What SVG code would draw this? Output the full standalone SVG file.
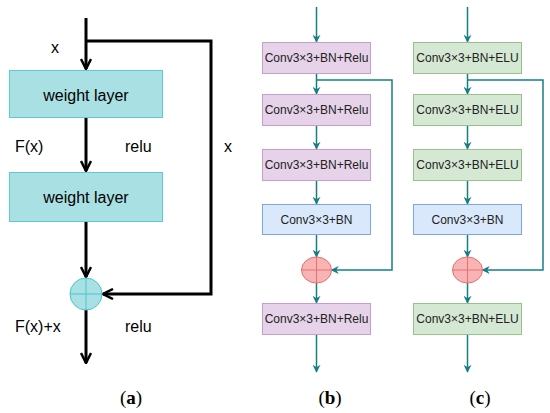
<svg xmlns="http://www.w3.org/2000/svg" width="550" height="413" viewBox="0 0 550 413">
<defs>
<marker id="ab" viewBox="0 0 12 12" refX="11" refY="6" markerWidth="12" markerHeight="12" markerUnits="userSpaceOnUse" orient="auto">
<path d="M1,1 L11,6 L1,11" fill="none" stroke="#000" stroke-width="2.5"/>
</marker>
<marker id="at" viewBox="0 0 10 10" refX="9" refY="5" markerWidth="8" markerHeight="8" markerUnits="userSpaceOnUse" orient="auto">
<path d="M0,0 L10,5 L0,10 L3,5 Z" fill="#167f86"/>
</marker>
</defs>
<style>
.t{font-family:"Liberation Sans",Arial,sans-serif;fill:#000}
.a{font-size:16px}
.b{font-size:12px;fill:#222}
.cap{font-family:"Liberation Serif","Times New Roman",serif;font-size:19px;text-anchor:middle}
.wl{fill:#a9e0e4;stroke:#5ccbd2;stroke-width:1}
.pu{fill:#e6d3e9;stroke:#c3a0c9;stroke-width:1}
.bl{fill:#dae8fc;stroke:#7ea6e0;stroke-width:1}
.gr{fill:#d5e8d4;stroke:#97c28a;stroke-width:1}
.k{fill:none;stroke:#000;stroke-width:3}
.c{fill:none;stroke:#167f86;stroke-width:1.5}
</style>
<rect width="550" height="413" fill="#fff"/>
<g id="connectors">
<!-- panel a -->
<path class="k" d="M86,18 V69" marker-end="url(#ab)"/>
<path class="k" d="M86,41 H211 V294 H103" marker-end="url(#ab)"/>
<path class="k" d="M86,118 V171" marker-end="url(#ab)"/>
<path class="k" d="M86,222 V277" marker-end="url(#ab)"/>
<path class="k" d="M86,310 V363" marker-end="url(#ab)"/>
<!-- panel b -->
<path class="c" d="M316.5,7 V42" marker-end="url(#at)"/>
<path class="c" d="M316.5,74 V94" marker-end="url(#at)"/>
<path class="c" d="M316.5,80 H392 V270 H331.5" marker-end="url(#at)"/>
<path class="c" d="M316.5,126 V149" marker-end="url(#at)"/>
<path class="c" d="M316.5,181 V204" marker-end="url(#at)"/>
<path class="c" d="M316.5,235 V257" marker-end="url(#at)"/>
<path class="c" d="M316.5,283 V303" marker-end="url(#at)"/>
<path class="c" d="M316.5,335 V372" marker-end="url(#at)"/>
<!-- panel c -->
<path class="c" d="M467.5,7 V42" marker-end="url(#at)"/>
<path class="c" d="M467.5,74 V94" marker-end="url(#at)"/>
<path class="c" d="M467.5,80 H543 V270 H482.5" marker-end="url(#at)"/>
<path class="c" d="M467.5,126 V149" marker-end="url(#at)"/>
<path class="c" d="M467.5,181 V204" marker-end="url(#at)"/>
<path class="c" d="M467.5,235 V257" marker-end="url(#at)"/>
<path class="c" d="M467.5,283 V303" marker-end="url(#at)"/>
<path class="c" d="M467.5,335 V372" marker-end="url(#at)"/>
</g>
<g id="a-labels">
<text class="t a" x="51" y="53">x</text>
<text class="t a" x="15" y="152">F(x)</text>
<text class="t a" x="125" y="152">relu</text>
<text class="t a" x="224" y="152">x</text>
<text class="t a" x="15" y="332">F(x)+x</text>
<text class="t a" x="125" y="332">relu</text>
</g>
<g id="a-w1"><rect class="wl" x="9.5" y="70.5" width="153" height="47"/><text class="t a" x="86" y="101" text-anchor="middle">weight layer</text></g>
<g id="a-w2"><rect class="wl" x="9.5" y="172.5" width="153" height="49"/><text class="t a" x="86" y="203" text-anchor="middle">weight layer</text></g>
<g id="a-sum"><circle cx="86" cy="294" r="16" fill="#a9e0e4" stroke="#4cc4cc"/><path d="M70,294 H102 M86,278 V310" stroke="#4cc4cc" stroke-width="1"/></g>
<g id="b1"><rect class="pu" x="262.5" y="42.5" width="108" height="31"/><text class="t b" x="316.5" y="62" text-anchor="middle">Conv3×3+BN+Relu</text></g>
<g id="b2"><rect class="pu" x="262.5" y="94.5" width="108" height="31"/><text class="t b" x="316.5" y="114" text-anchor="middle">Conv3×3+BN+Relu</text></g>
<g id="b3"><rect class="pu" x="262.5" y="149.5" width="108" height="31"/><text class="t b" x="316.5" y="169" text-anchor="middle">Conv3×3+BN+Relu</text></g>
<g id="b4"><rect class="bl" x="262.5" y="204.5" width="108" height="30"/><text class="t b" x="316.5" y="224" text-anchor="middle">Conv3×3+BN</text></g>
<g id="b-sum"><ellipse cx="316.5" cy="270" rx="15" ry="13" fill="#f8b4b4" stroke="#e8706e"/><path d="M301.5,270 H331.5 M316.5,257 V283" stroke="#e8706e" stroke-width="1"/></g>
<g id="b5"><rect class="pu" x="262.5" y="303.5" width="108" height="31"/><text class="t b" x="316.5" y="323" text-anchor="middle">Conv3×3+BN+Relu</text></g>
<g id="c1"><rect class="gr" x="413.5" y="42.5" width="108" height="31"/><text class="t b" x="467.5" y="62" text-anchor="middle">Conv3×3+BN+ELU</text></g>
<g id="c2"><rect class="gr" x="413.5" y="94.5" width="108" height="31"/><text class="t b" x="467.5" y="114" text-anchor="middle">Conv3×3+BN+ELU</text></g>
<g id="c3"><rect class="gr" x="413.5" y="149.5" width="108" height="31"/><text class="t b" x="467.5" y="169" text-anchor="middle">Conv3×3+BN+ELU</text></g>
<g id="c4"><rect class="bl" x="413.5" y="204.5" width="108" height="30"/><text class="t b" x="467.5" y="224" text-anchor="middle">Conv3×3+BN</text></g>
<g id="c-sum"><ellipse cx="467.5" cy="270" rx="15" ry="13" fill="#f8b4b4" stroke="#e8706e"/><path d="M452.5,270 H482.5 M467.5,257 V283" stroke="#e8706e" stroke-width="1"/></g>
<g id="c5"><rect class="gr" x="413.5" y="303.5" width="108" height="31"/><text class="t b" x="467.5" y="323" text-anchor="middle">Conv3×3+BN+ELU</text></g>
<g id="captions">
<text class="cap" x="131" y="404">(<tspan font-weight="bold">a</tspan>)</text>
<text class="cap" x="330" y="404">(<tspan font-weight="bold">b</tspan>)</text>
<text class="cap" x="480" y="404">(<tspan font-weight="bold">c</tspan>)</text>
</g>
</svg>
